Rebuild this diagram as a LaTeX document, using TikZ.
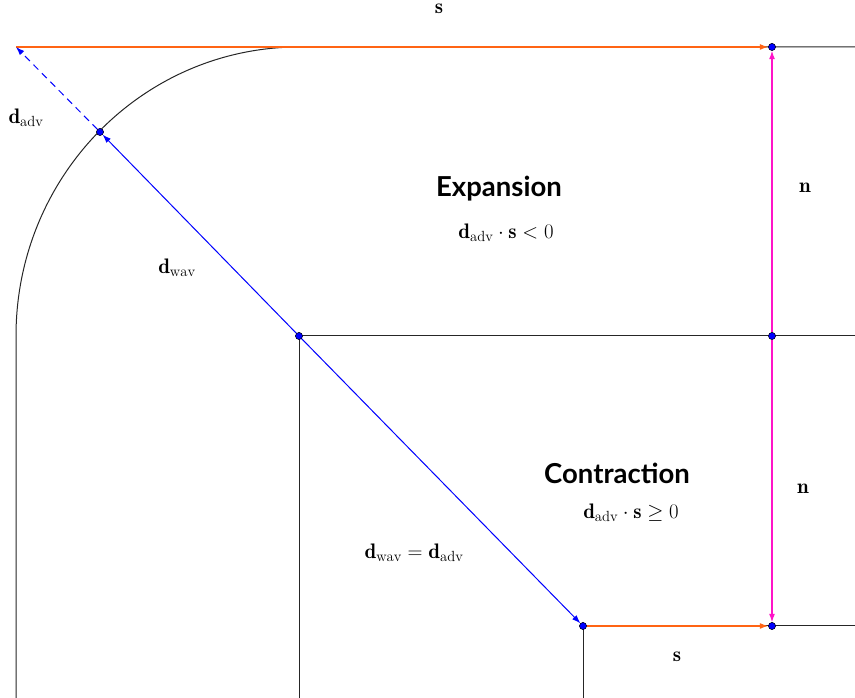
\documentclass[tikz,border=0pt]{standalone}
\usepackage{fontspec}
\newfontfamily\headfont{Lato}
\usetikzlibrary{arrows.meta}
\definecolor{orng}{RGB}{255,100,20}
\definecolor{mgnt}{RGB}{255,20,200}
\tikzset{
  dot/.style={circle,fill=blue,draw=black,line width=0.4pt,inner sep=0pt,minimum size=7pt},
  wall/.style={draw=black!85,line width=1pt},
  tipa/.style={-{Latex[length=8.5pt,width=6pt]}},
  bluearr/.style={tipa,draw=blue,line width=1pt},
  orngarr/.style={tipa,draw=orng,line width=1.2pt},
  mgntarr/.style={tipa,draw=mgnt,line width=1.2pt},
  mlabel/.style={font=\fontsize{21}{25}\selectfont,inner sep=0pt},
  head/.style={font=\headfont\bfseries\fontsize{27.5}{32}\selectfont,inner sep=0pt}
}
\begin{document}
\begin{tikzpicture}[x=1pt,y=1pt]
\useasboundingbox (0,0) rectangle (855,698);
% walls
\draw[wall] (16,0) -- (16,362) arc[start angle=180,end angle=90,x radius=283,y radius=289] -- (855,651);
\draw[wall] (299,0) -- (299,362) -- (855,362);
\draw[wall] (583,0) -- (583,72) -- (855,72);
% points
\coordinate (A) at (16,651);
\node[dot] (P) at (100,566) {};
\node[dot] (C) at (299,362) {};
\node[dot] (T) at (772,651) {};
\node[dot] (M) at (772,362) {};
\node[dot] (B) at (583,72) {};
\node[dot] (R) at (772,72) {};
% connectors
\draw[orngarr] (A) -- (T);
\draw[orngarr] (B) -- (R);
\draw[bluearr,dashed,dash pattern=on 7pt off 5pt] (P) -- (A);
\draw[bluearr] (C) -- (P);
\draw[bluearr] (C) -- (B);
\draw[mgntarr] (M) -- (T);
\draw[mgntarr] (M) -- (R);
% redraw dots on top
\foreach \n in {P,C,T,M,B,R} \node[dot] at (\n) {};
% labels
\node[mlabel] (ls1) at (439,689) {$\mathbf{s}$};
\node[mlabel] (ladv) at (26,580) {$\mathbf{d}_{\mathrm{adv}}$};
\node[head] (exp) at (499,509) {Expansion};
\node[mlabel] (lexp) at (506,465) {$\mathbf{d}_{\mathrm{adv}}\cdot\mathbf{s}<0$};
\node[mlabel] (ln1) at (805,510) {$\mathbf{n}$};
\node[mlabel] (lwav) at (177,430) {$\mathbf{d}_{\mathrm{wav}}$};
\node[head] (con) at (617,225) {Contraction};
\node[mlabel] (lcon) at (631,185) {$\mathbf{d}_{\mathrm{adv}}\cdot\mathbf{s}\geq0$};
\node[mlabel] (ln2) at (803,209) {$\mathbf{n}$};
\node[mlabel] (leq) at (414,145) {$\mathbf{d}_{\mathrm{wav}}=\mathbf{d}_{\mathrm{adv}}$};
\node[mlabel] (ls2) at (677,41) {$\mathbf{s}$};
\end{tikzpicture}
\end{document}
